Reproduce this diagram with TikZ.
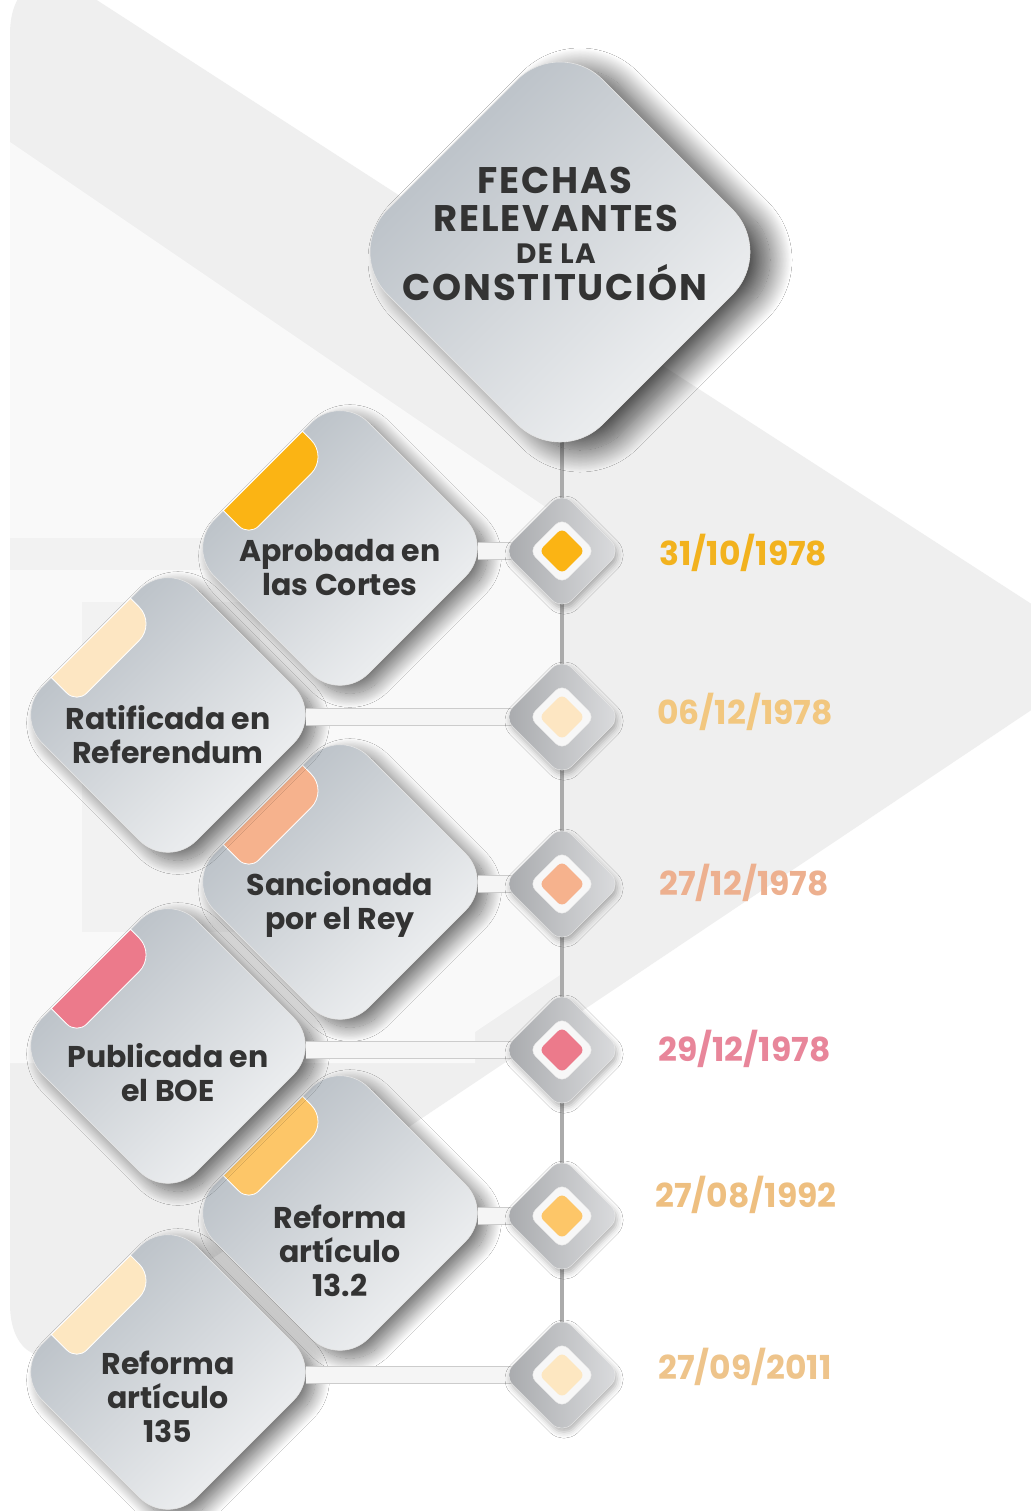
\documentclass[tikz,border=0pt]{standalone}
\usepackage{fontspec}
\setmainfont{Poppins}
\usetikzlibrary{shapes.geometric}
\usetikzlibrary{positioning}
\usetikzlibrary{shadows.blur}

\definecolor{bggrey}{HTML}{EFEFEF}
\definecolor{bgwhite}{HTML}{F9F9F9}
\definecolor{carddark}{HTML}{B4BBC2}
\definecolor{cardlight}{HTML}{F4F5F6}
\definecolor{ink}{HTML}{333333}
\definecolor{ringlo}{HTML}{A7A9AC}
\definecolor{ringhi}{HTML}{DCDDDF}
\definecolor{amber}{HTML}{FBB414}
\definecolor{cream}{HTML}{FDE6C2}
\definecolor{salmon}{HTML}{F6B28D}
\definecolor{rose}{HTML}{EC7A8B}
\definecolor{apricot}{HTML}{FDC668}
\definecolor{pale}{HTML}{FDE7C1}
\definecolor{dateamber}{HTML}{F2B21E}
\definecolor{datecream}{HTML}{F2C77F}
\definecolor{datesalmon}{HTML}{EDB08F}
\definecolor{daterose}{HTML}{E8869A}
\definecolor{dateapricot}{HTML}{EEBF80}
\definecolor{datepale}{HTML}{EEC48B}

\begin{document}
\begin{tikzpicture}
  [x=1pt, y=1pt,
   card/.style={diamond, minimum width=308pt, minimum height=308pt, inner sep=0pt,
     rounded corners=40pt, draw=black!10, line width=.6pt,
     top color=carddark, bottom color=cardlight, shading angle=45,
     blur shadow={shadow xshift=10pt, shadow yshift=-8pt, shadow blur radius=14pt,
       shadow blur steps=24, shadow opacity=55}},
   headcard/.style={diamond, minimum width=430pt, minimum height=430pt, inner sep=0pt,
     rounded corners=60pt, draw=black!10, line width=.6pt,
     top color=carddark, bottom color=cardlight, shading angle=45,
     blur shadow={shadow xshift=20pt, shadow yshift=-8pt, shadow blur radius=22pt,
       shadow blur steps=30, shadow opacity=70}},
   cardtext/.style={align=center, inner sep=0pt, text=ink, font=\fontsize{30}{34}\selectfont\bfseries},
   headtext/.style={inner sep=0pt, anchor=base, text=ink,
     font=\fontsize{37}{37}\selectfont\bfseries\addfontfeatures{LetterSpace=5}},
   datetext/.style={inner sep=0pt, text=#1, font=\fontsize{33}{33}\selectfont\bfseries},
   cardtab/.style={fill=#1, draw=white, line width=.8pt},
   hubring/.style={diamond, minimum width=118pt, minimum height=118pt, inner sep=0pt,
     rounded corners=14pt, left color=ringlo, right color=ringhi, draw=black!8,
     blur shadow={shadow xshift=2pt, shadow yshift=-4pt, shadow blur radius=6pt, shadow opacity=30}},
   hubwhite/.style={diamond, minimum width=66pt, minimum height=66pt, inner sep=0pt,
     rounded corners=9pt, fill=white!97!black, draw=black!10},
   hubdot/.style={diamond, minimum width=46pt, minimum height=46pt, inner sep=0pt,
     rounded corners=6pt, fill=#1},
   spineline/.style={draw=black!33, line width=4pt},
   link/.style={draw=black!20, line width=.8pt, double=white!96!black, double distance=16pt}]

  \useasboundingbox (0,0) rectangle (1030,-1511);

  % background
  \fill[white] (0,0) rectangle (1030,-1511);
  \fill[bggrey, rounded corners=90pt] (10,-700) -- (10,56) -- (1112,-656) -- (10,-1394) -- cycle;
  \fill[bgwhite] (10,-142) -- (560,-517) -- (560,-975) -- (475,-1032) -- (475,-1063) -- (10,-1063) -- cycle;
  \fill[bggrey!70!bgwhite] (10,-538) rectangle (260,-570);
  \fill[bggrey!70!bgwhite] (82,-602) rectangle (260,-932);

  % timeline
  \coordinate (top) at (562,-252);
  \foreach \i/\my in {1/551, 2/717, 3/884, 4/1050, 5/1216, 6/1375}{
    \coordinate (hub\i) at (562,-\my);
  }
  \foreach \a/\b in {top/hub1, hub1/hub2, hub2/hub3, hub3/hub4, hub4/hub5, hub5/hub6}{
    \draw[spineline] (\a) -- (\b);
  }

  % cards
  \node[headcard] (head) at (560,-252) {};
  \foreach \i/\cx/\cy/\col in {6/168/1372/pale, 5/340/1213/apricot, 4/168/1046/rose,
                               3/340/882/salmon, 2/168/715/cream, 1/340/548/amber}{
    \node[card] (c\i) at (\cx,-\cy) {};
    \begin{scope}[shift={(c\i.center)}, rotate=45]
      \filldraw[cardtab=\col] (-56,109) -- (56,109) -- (56,97) arc (0:-90:24pt)
        -- (-42,73) arc (270:180:14pt) -- cycle;
    \end{scope}
  }

  \node[headtext] (h1) at (555,-194) {FECHAS};
  \node[headtext] (h2) at (556,-232) {RELEVANTES};
  \node[headtext, font=\fontsize{28}{28}\selectfont\bfseries\addfontfeatures{LetterSpace=5}]
    (h3) at (556,-264) {DE LA};
  \node[headtext] (h4) at (555,-301) {CONSTITUCIÓN};

  \node[cardtext, below=-8.5pt of c1.center] (t1) {Aprobada en\\las Cortes};
  \node[cardtext, below=-9.5pt of c2.center] (t2) {Ratificada en\\Referendum};
  \node[cardtext, below=-10.5pt of c3.center] (t3) {Sancionada\\por el Rey};
  \node[cardtext, below=-2.5pt of c4.center] (t4) {Publicada en\\el BOE};
  \node[cardtext, below=-8.5pt of c5.center] (t5) {Reforma\\artículo\\13.2};
  \node[cardtext, below=-21.5pt of c6.center] (t6) {Reforma\\artículo\\135};

  % links from the cards to the timeline
  \foreach \i in {1,...,6}{
    \coordinate (tip\i) at ([xshift=-16pt]c\i.east);
    \draw[link] (tip\i |- hub\i) -- (hub\i);
  }

  % timeline markers
  \foreach \i/\col in {1/amber, 2/cream, 3/salmon, 4/rose, 5/apricot, 6/pale}{
    \node[hubring] (m\i) at (hub\i) {};
    \node[hubwhite] (w\i) at (m\i) {};
    \node[hubdot=\col] (k\i) at (m\i) {};
  }

  % dates
  \node[datetext=dateamber, right=38pt of m1, yshift=-2pt] (d1) {31/10/1978};
  \node[datetext=datecream, right=36pt of m2, yshift=5pt] (d2) {06/12/1978};
  \node[datetext=datesalmon, right=38pt of m3, yshift=1pt] (d3) {27/12/1978};
  \node[datetext=daterose, right=37pt of m4, yshift=1pt] (d4) {29/12/1978};
  \node[datetext=dateapricot, right=34pt of m5, yshift=21pt] (d5) {27/08/1992};
  \node[datetext=datepale, right=37pt of m6, yshift=8pt] (d6) {27/09/2011};
\end{tikzpicture}
\end{document}
